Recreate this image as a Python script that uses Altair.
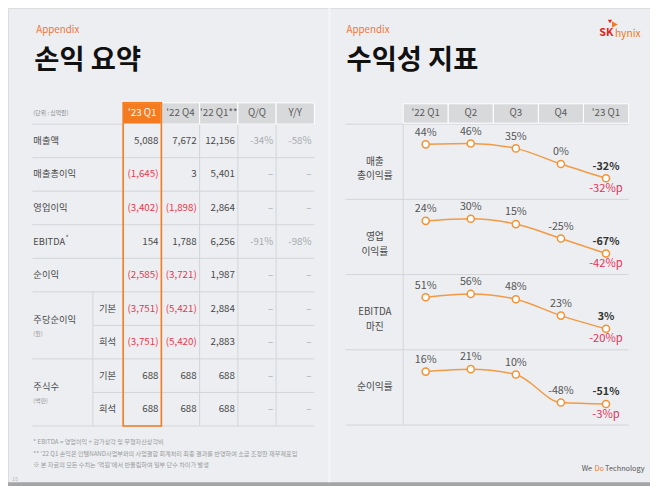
import altair as alt
import pandas as pd

# ---------------- data ----------------
left_titles = ["Appendix", "손익 요약"]
right_titles = ["Appendix", "수익성 지표"]

pl_columns = ["'23 Q1", "'22 Q4", "'22 Q1**", "Q/Q", "Y/Y"]
pl_row_ids = ["매출액", "매출총이익", "영업이익", "EBITDA", "순이익",
              "주당순이익|기본", "주당순이익|희석", "주식수|기본", "주식수|희석"]
pl_row_labels = ["매출액", "매출총이익", "영업이익", "EBITDA", "순이익"]
pl_group_labels = ["주당순이익", "주식수"]
pl_group_units = ["(원)", "(백만)"]
pl_group_first_row = ["주당순이익|기본", "주식수|기본"]
pl_sub_labels = ["기본", "희석", "기본", "희석"]
pl_sub_rows = ["주당순이익|기본", "주당순이익|희석", "주식수|기본", "주식수|희석"]
pl_unit = ["(단위 : 십억원)"]

v_23q1 = ["5,088", "(1,645)", "(3,402)", "154", "(2,585)", "(3,751)", "(3,751)", "688", "688"]
v_22q4 = ["7,672", "3", "(1,898)", "1,788", "(3,721)", "(5,421)", "(5,420)", "688", "688"]
v_22q1 = ["12,156", "5,401", "2,864", "6,256", "1,987", "2,884", "2,883", "688", "688"]
v_qq = ["-34%", "–", "–", "-91%", "–", "–", "–", "–", "–"]
v_yy = ["-58%", "–", "–", "-98%", "–", "–", "–", "–", "–"]

footnotes = [
    "* EBITDA = 영업이익 + 감가상각 및 무형자산상각비",
    "** '22 Q1 손익은 인텔NAND사업부와의 사업결합 회계처리 최종 결과를 반영하여 소급 조정한 재무제표임",
    "※ 본 자료의 모든 수치는 '억원'에서 반올림하여 일부 단수 차이가 발생",
]
page_no = ["15"]

pr_quarters = ["'22 Q1", "Q2", "Q3", "Q4", "'23 Q1"]
pr_metrics = ["매출\n총이익률", "영업\n이익률", "EBITDA\n마진", "순이익률"]
gross_margin = [44, 46, 35, 0, -32]
op_margin = [24, 30, 15, -25, -67]
ebitda_margin = [51, 56, 48, 23, 3]
net_margin = [16, 21, 10, -48, -51]
yoy_change = ["-32%p", "-42%p", "-20%p", "-3%p"]

brand = ["SK", "hynix"]
slogan = ["We", "Do", "Technology"]

# ---------------- layout helpers ----------------
W, H = 642, 478
K = W / 658.0
def px(x): return x * W / 658.0
def py(y): return y * H / 494.0
def fs(s): return s * K

FONT = "Noto Sans CJK KR"
ORANGE = "#f47b20"
LINE_OR = "#f29a45"
RED = "#e8384f"
GRID = "#d3d5d8"
DARK = "#4a4a4a"

def band(domain, r0, r1):
    return alt.Scale(type="band", domain=domain, range=[r0, r1], paddingInner=0, paddingOuter=0)

layers = []

def label(texts, x, y, size, color, weight="normal", align="left", baseline="middle"):
    df = pd.DataFrame({"t": texts})
    return alt.Chart(df).mark_text(font=FONT, fontSize=fs(size), color=color, fontWeight=weight,
                                   align=align, baseline=baseline).encode(
        x=alt.value(px(x)), y=alt.value(py(y)), text="t:N")

dummy = pd.DataFrame({"d": [1]})

# bottom band
layers.append(alt.Chart(dummy).mark_rect(color="#a3a5a8").encode(
    x=alt.value(0), x2=alt.value(W), y=alt.value(py(490)), y2=alt.value(H)))
# slide divider
layers.append(alt.Chart(dummy).mark_rule(color="#f4f5f7", strokeWidth=2).encode(
    x=alt.value(px(329.5)), y=alt.value(0), y2=alt.value(py(490))))

# ---------------- titles ----------------
layers.append(label([left_titles[0]], 29, 23, 10, "#f0743a"))
layers.append(label([left_titles[1]], 27, 63, 28, "#111111", "bold", baseline="alphabetic"))
layers.append(label([right_titles[0]], 347, 23, 10, "#f0743a"))
layers.append(label([right_titles[1]], 347, 63, 28, "#111111", "bold", baseline="alphabetic"))

# SK hynix logo
layers.append(alt.Chart(dummy).mark_point(shape="triangle-right", filled=True, color="#f47920", size=fs(45), opacity=1).encode(
    x=alt.value(px(622)), y=alt.value(py(17))))
layers.append(alt.Chart(dummy).mark_point(shape="triangle-down", filled=True, color="#e2231a", size=fs(18), opacity=1).encode(
    x=alt.value(px(617)), y=alt.value(py(14))))
layers.append(label([brand[0]], 606, 26, 11, "#e2231a", "bold"))
layers.append(label([brand[1]], 622, 26.5, 10.5, "#f47920"))

# slogan
layers.append(label([slogan[0]], 588, 476, 7.5, "#555555"))
layers.append(label([slogan[1]], 601, 476, 7.5, "#f07a2a"))
layers.append(label([slogan[2]], 612, 476, 7.5, "#555555"))

# ---------------- left table ----------------
XL = band(pl_columns, px(118), px(314))
YL = band(pl_row_ids, py(120), py(432))

# horizontal grid
full_rows = [r for r in pl_row_ids if not r.endswith("|희석")]
sub_rows = [r for r in pl_row_ids if r.endswith("|희석")]
layers.append(alt.Chart(pd.DataFrame({"row": full_rows})).mark_rule(color=GRID, strokeWidth=1).encode(
    y=alt.Y("row:N", scale=YL, axis=None, bandPosition=0), x=alt.value(px(25)), x2=alt.value(px(314))))
layers.append(alt.Chart(pd.DataFrame({"row": sub_rows})).mark_rule(color=GRID, strokeWidth=1).encode(
    y=alt.Y("row:N", scale=YL, axis=None, bandPosition=0), x=alt.value(px(87)), x2=alt.value(px(314))))
layers.append(alt.Chart(pd.DataFrame({"row": [pl_row_ids[-1]]})).mark_rule(color=GRID, strokeWidth=1).encode(
    y=alt.Y("row:N", scale=YL, axis=None, bandPosition=1), x=alt.value(px(25)), x2=alt.value(px(314))))
# vertical grid
layers.append(alt.Chart(pd.DataFrame({"col": pl_columns[2:]})).mark_rule(color=GRID, strokeWidth=1).encode(
    x=alt.X("col:N", scale=XL, axis=None, bandPosition=0), y=alt.value(py(120)), y2=alt.value(py(432))))
layers.append(alt.Chart(pd.DataFrame({"row": [pl_sub_rows[0]]})).mark_rule(color=GRID, strokeWidth=1).encode(
    y=alt.Y("row:N", scale=YL, axis=None, bandPosition=0), y2=alt.value(py(432)), x=alt.value(px(87))))

# header
hdr = pd.DataFrame({"col": pl_columns, "part": "h", "hl": ["on"] + ["off"] * 4})
YH = band(["h"], py(98), py(120))
layers.append(alt.Chart(hdr).mark_rect(stroke="white", strokeWidth=1).encode(
    x=alt.X("col:N", scale=XL, axis=None),
    y=alt.Y("part:N", scale=YH, axis=None),
    color=alt.Color("hl:N", scale=alt.Scale(domain=["on", "off"], range=[ORANGE, "#d8d9db"]), legend=None)))
layers.append(alt.Chart(hdr).mark_text(font=FONT, fontSize=fs(10), baseline="middle").encode(
    x=alt.X("col:N", scale=XL, axis=None, bandPosition=0.5),
    y=alt.Y("part:N", scale=YH, axis=None, bandPosition=0.5),
    text="col:N",
    color=alt.Color("hl:N", scale=alt.Scale(domain=["on", "off"], range=["#ffffff", "#5a5a5a"]), legend=None)))
layers.append(label(pl_unit, 26, 109, 6, "#8a8a8a"))

# values
recs = []
for c, vals in zip(pl_columns, [v_23q1, v_22q4, v_22q1, v_qq, v_yy]):
    for r, v in zip(pl_row_ids, vals):
        kind = "neg" if v.startswith("(") else ("pct" if c in ("Q/Q", "Y/Y") else "pos")
        recs.append({"col": c, "row": r, "v": v, "kind": kind})
tbl = pd.DataFrame(recs)
layers.append(alt.Chart(tbl).mark_text(font=FONT, fontSize=fs(10), align="right", baseline="middle", dx=-3 * K).encode(
    x=alt.X("col:N", scale=XL, axis=None, bandPosition=1),
    y=alt.Y("row:N", scale=YL, axis=None, bandPosition=0.5),
    text="v:N",
    color=alt.Color("kind:N", scale=alt.Scale(domain=["pos", "neg", "pct"], range=[DARK, RED, "#a9abae"]), legend=None)))

# row labels
layers.append(alt.Chart(pd.DataFrame({"row": pl_row_labels})).mark_text(
    font=FONT, fontSize=fs(9.5), align="left", baseline="middle", color=DARK).encode(
    x=alt.value(px(26)), y=alt.Y("row:N", scale=YL, axis=None, bandPosition=0.5), text="row:N"))
layers.append(alt.Chart(pd.DataFrame({"row": ["EBITDA"], "t": ["*"]})).mark_text(
    font=FONT, fontSize=fs(7), align="left", baseline="middle", color=DARK, dy=-4 * K).encode(
    x=alt.value(px(59)), y=alt.Y("row:N", scale=YL, axis=None, bandPosition=0.5), text="t:N"))
grp = pd.DataFrame({"row": pl_group_first_row, "t": pl_group_labels, "u": pl_group_units})
layers.append(alt.Chart(grp).mark_text(font=FONT, fontSize=fs(9.5), align="left", baseline="middle",
                                       color=DARK, dy=-6 * K).encode(
    x=alt.value(px(26)), y=alt.Y("row:N", scale=YL, axis=None, bandPosition=1), text="t:N"))
layers.append(alt.Chart(grp).mark_text(font=FONT, fontSize=fs(6), align="left", baseline="middle",
                                       color="#999999", dy=9 * K).encode(
    x=alt.value(px(26)), y=alt.Y("row:N", scale=YL, axis=None, bandPosition=1), text="u:N"))
layers.append(alt.Chart(pd.DataFrame({"row": pl_sub_rows, "t": pl_sub_labels})).mark_text(
    font=FONT, fontSize=fs(9.5), align="center", baseline="middle", color=DARK).encode(
    x=alt.value(px(102)), y=alt.Y("row:N", scale=YL, axis=None, bandPosition=0.5), text="t:N"))

# orange highlight box
layers.append(alt.Chart(pd.DataFrame({"col": [pl_columns[0]], "part": ["box"]})).mark_rect(
    fillOpacity=0, stroke=ORANGE, strokeWidth=1.6).encode(
    x=alt.X("col:N", scale=XL, axis=None),
    y=alt.Y("part:N", scale=band(["box"], py(98), py(432)), axis=None)))

# footnotes
for i, f in enumerate(footnotes):
    layers.append(label([f], 26, 449 + i * 11.5, 6.3, "#9a9a9a"))
layers.append(label(page_no, 4, 487, 5.5, "#b5b5b5"))

# ---------------- right panel ----------------
XRb = band(pr_quarters, px(405), px(636))
XRp = alt.Scale(type="point", domain=pr_quarters, range=[px(405), px(636)], padding=0.5)
YR = band(pr_metrics, py(120), py(431))

layers.append(alt.Chart(pd.DataFrame({"m": pr_metrics})).mark_rule(color=GRID, strokeWidth=1).encode(
    y=alt.Y("m:N", scale=YR, axis=None, bandPosition=0), x=alt.value(px(346)), x2=alt.value(px(636))))
layers.append(alt.Chart(pd.DataFrame({"m": [pr_metrics[-1]]})).mark_rule(color=GRID, strokeWidth=1).encode(
    y=alt.Y("m:N", scale=YR, axis=None, bandPosition=1), x=alt.value(px(346)), x2=alt.value(px(636))))
layers.append(alt.Chart(pd.DataFrame({"q": [pr_quarters[0]]})).mark_rule(color=GRID, strokeWidth=1).encode(
    x=alt.X("q:N", scale=XRb, axis=None, bandPosition=0), y=alt.value(py(120)), y2=alt.value(py(431))))

hdr_r = pd.DataFrame({"q": pr_quarters, "part": "h"})
YHR = band(["h"], py(99), py(119))
layers.append(alt.Chart(hdr_r).mark_rect(stroke="white", strokeWidth=1, color="#d8d9db").encode(
    x=alt.X("q:N", scale=XRb, axis=None), y=alt.Y("part:N", scale=YHR, axis=None)))
layers.append(alt.Chart(hdr_r).mark_text(font=FONT, fontSize=fs(10), baseline="middle", color="#5a5a5a").encode(
    x=alt.X("q:N", scale=XRb, axis=None, bandPosition=0.5),
    y=alt.Y("part:N", scale=YHR, axis=None, bandPosition=0.5), text="q:N"))

layers.append(alt.Chart(pd.DataFrame({"m": pr_metrics})).mark_text(
    font=FONT, fontSize=fs(10), align="center", baseline="middle", color=DARK,
    lineBreak="\n", lineHeight=15 * K).encode(
    x=alt.value(px(376)), y=alt.Y("m:N", scale=YR, axis=None, bandPosition=0.5), text="m:N"))

row_h = (431 - 120) / 4.0
for i, (vals, chg) in enumerate(zip([gross_margin, op_margin, ebitda_margin, net_margin], yoy_change)):
    top = 120 + i * row_h
    ys = alt.Scale(domain=[min(vals), max(vals)], range=[py(top + 56), py(top + 20)], zero=False, nice=False)
    df = pd.DataFrame({"q": pr_quarters, "v": vals, "lab": [f"{v}%" for v in vals],
                       "last": [False] * (len(vals) - 1) + [True], "chg": [""] * (len(vals) - 1) + [chg]})
    base = alt.Chart(df).encode(x=alt.X("q:N", scale=XRp, axis=None), y=alt.Y("v:Q", scale=ys, axis=None))
    layers.append(base.mark_line(color=LINE_OR, strokeWidth=1.5, interpolate="monotone"))
    layers.append(base.mark_point(shape="circle", filled=True, fill="white", stroke="#f39233",
                                  strokeWidth=1.5, size=fs(52), opacity=1))
    layers.append(base.transform_filter("!datum.last").mark_text(
        font=FONT, fontSize=fs(11), color="#555555", baseline="middle", dy=-12 * K).encode(text="lab:N"))
    layers.append(base.transform_filter("datum.last").mark_text(
        font=FONT, fontSize=fs(11), color="#333333", fontWeight="bold", baseline="middle", dy=-12 * K).encode(text="lab:N"))
    layers.append(base.transform_filter("datum.last").mark_text(
        font=FONT, fontSize=fs(11.5), color="#e5335a", baseline="middle", dy=11 * K).encode(text="chg:N"))

chart = alt.layer(*layers).resolve_scale(
    x="independent", y="independent", color="independent"
).properties(
    width=W, height=H, padding=0, autosize=alt.AutoSizeParams(type="none")
).configure_view(stroke=None).configure(background="#eceef1", font=FONT)

chart.save("out.html", embed_options={"renderer": "svg", "actions": False})
